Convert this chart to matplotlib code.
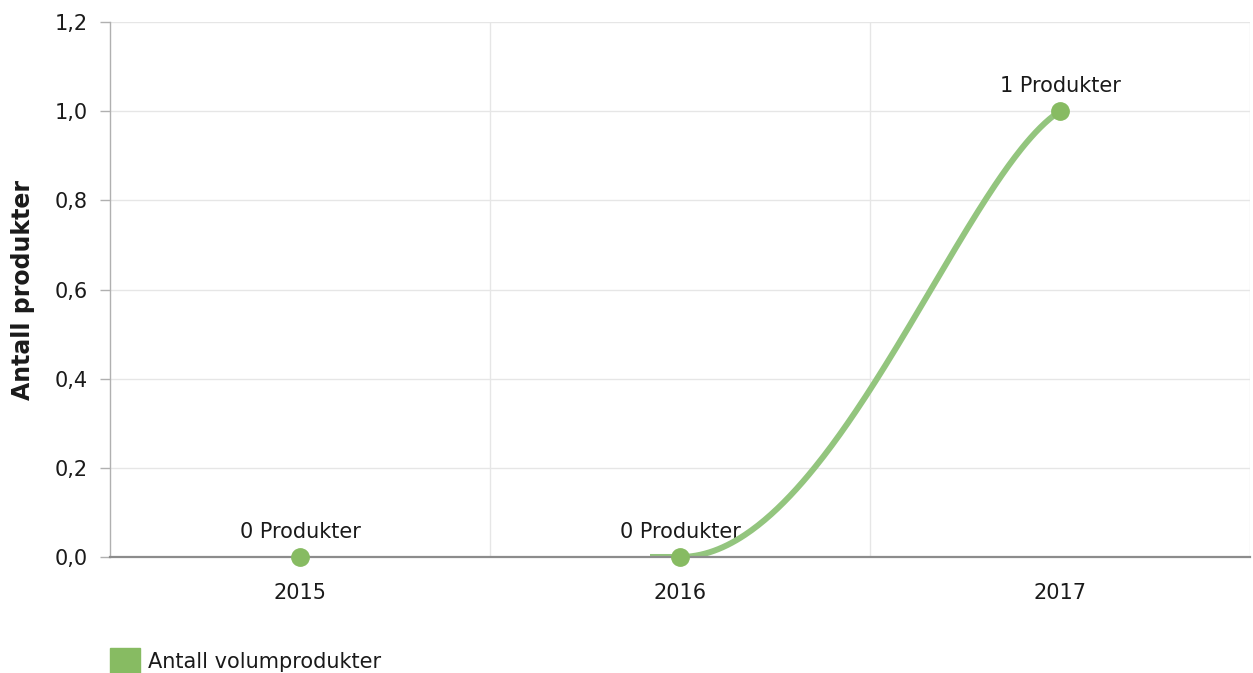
import numpy as np
import matplotlib
matplotlib.use('Agg')
import matplotlib.pyplot as plt
from matplotlib.patches import Patch, Polygon
from matplotlib.ticker import FuncFormatter, MultipleLocator, FixedLocator

# Data
years = ['2015', '2016', '2017']
antall = [0, 0, 1]
labels = ['0 Produkter', '0 Produkter', '1 Produkter']
series_name = 'Antall volumprodukter'
y_title = 'Antall produkter'

line_color = '#93c57e'
marker_color = '#87bb62'
text_color = '#1a1a1a'

plt.rcParams['font.family'] = 'DejaVu Sans'


def spline_path(xs, ys, smoothing=1.5, end_frac=0.26, end_slope=0.55, n=200):
    # smooth curve through the points, highcharts-style control points
    denom = smoothing + 1
    right_cont = [None] * len(xs)
    out_x, out_y = [xs[0]], [ys[0]]
    for i in range(1, len(xs)):
        px, py = xs[i], ys[i]
        lx, ly = xs[i - 1], ys[i - 1]
        if i < len(xs) - 1:
            nx, ny = xs[i + 1], ys[i + 1]
            left_x = (smoothing * px + lx) / denom
            left_y = (smoothing * py + ly) / denom
            rx = (smoothing * px + nx) / denom
            ry = (smoothing * py + ny) / denom
            corr = 0
            if rx != left_x:
                corr = (ry - left_y) * (rx - px) / (rx - left_x) + py - ry
            left_y += corr
            ry += corr
            if left_y > ly and left_y > py:
                left_y = max(ly, py)
                ry = 2 * py - left_y
            elif left_y < ly and left_y < py:
                left_y = min(ly, py)
                ry = 2 * py - left_y
            if ry > ny and ry > py:
                ry = max(ny, py)
                left_y = 2 * py - ry
            elif ry < ny and ry < py:
                ry = min(ny, py)
                left_y = 2 * py - ry
            right_cont[i] = (rx, ry)
        else:
            # last point: ease into it with a softened tangent
            left_x = px - end_frac * (px - lx)
            left_y = py - end_slope * (py - ly) * end_frac
        c1 = right_cont[i - 1] if right_cont[i - 1] else (lx, ly)
        t = np.linspace(0, 1, n)[1:]
        bx = (1 - t) ** 3 * lx + 3 * (1 - t) ** 2 * t * c1[0] + 3 * (1 - t) * t ** 2 * left_x + t ** 3 * px
        by = (1 - t) ** 3 * ly + 3 * (1 - t) ** 2 * t * c1[1] + 3 * (1 - t) * t ** 2 * left_y + t ** 3 * py
        out_x.extend(bx)
        out_y.extend(by)
    return np.array(out_x), np.array(out_y)


fig = plt.figure(figsize=(12.53, 6.73), dpi=100)
ax = fig.add_axes([110 / 1253, 116 / 673, 1140 / 1253, 535 / 673])

ax.set_xlim(-0.5, 2.5)
ax.set_ylim(0, 1.2)

x = np.arange(len(years))
sx, sy = spline_path(list(x), antall)
curve, = ax.plot(sx, sy, color=line_color, lw=4.3, zorder=2, solid_capstyle='round')
# the flat stretch 2015-2016 along zero sits hidden behind the x axis line
clip = Polygon([(-0.5, 0.008), (x[1] - 0.08, 0.008), (x[1] - 0.08, 0.0),
                (2.5, 0.0), (2.5, 1.3), (-0.5, 1.3)], closed=True, transform=ax.transData)
curve.set_clip_path(clip)
ax.plot(x, antall, 'o', color=marker_color, ms=12.5, zorder=4, clip_on=False)

for xi, yi, lab in zip(x, antall, labels):
    ax.annotate(lab, (xi, yi), xytext=(0, 14), textcoords='offset points',
                ha='center', va='baseline', fontsize=15, color=text_color, zorder=1)

ax.set_xticks(x)
ax.set_xticklabels(years)
ax.xaxis.set_minor_locator(FixedLocator([0.5, 1.5, 2.5]))
ax.yaxis.set_major_locator(MultipleLocator(0.2))
ax.yaxis.set_major_formatter(FuncFormatter(lambda v, p: f'{v:.1f}'.replace('.', ',')))

ax.grid(axis='y', which='major', color='#e6e6e6', lw=1)
ax.grid(axis='x', which='minor', color='#e6e6e6', lw=1)
ax.set_axisbelow(True)

ax.tick_params(axis='x', which='both', length=0, pad=19, labelsize=15, labelcolor=text_color)
ax.tick_params(axis='y', length=7.2, width=1, color='#b0b0b0', pad=9, labelsize=15,
               labelcolor=text_color)

for side in ['top', 'right']:
    ax.spines[side].set_visible(False)
ax.spines['left'].set_color('#b0b0b0')
ax.spines['left'].set_linewidth(1)
ax.spines['bottom'].set_color('#8c8c8c')
ax.spines['bottom'].set_linewidth(1.6)
ax.spines['bottom'].set_zorder(3)

ax.set_ylabel(y_title, fontsize=17, fontweight='bold', color=text_color)
ax.yaxis.set_label_coords(-75 / 1140, 0.5)

fig.legend(handles=[Patch(color=marker_color)], labels=[series_name],
           loc='lower left', bbox_to_anchor=(110 / 1253, 0.0), frameon=False,
           fontsize=15, handlelength=1.45, handleheight=1.45, handletextpad=0.35,
           borderpad=0, borderaxespad=0, labelcolor=text_color)

fig.savefig('out.png', dpi=100)
